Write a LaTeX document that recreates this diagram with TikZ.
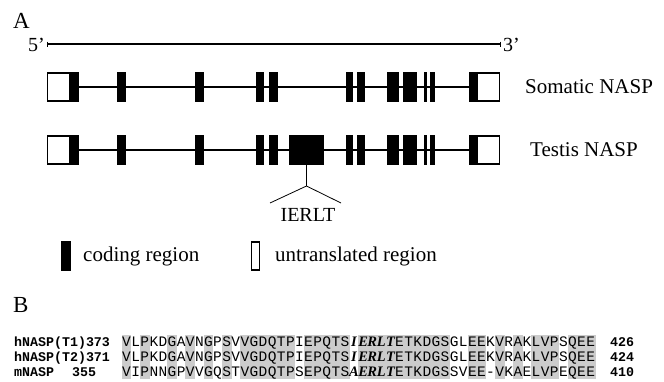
\documentclass[tikz,border=0pt]{standalone}
\usepackage{fontspec}
\setmainfont{Liberation Serif}
\newfontfamily\monof{Liberation Mono}
\newfontfamily\motiff{Liberation Serif}
\newcommand\mi[1]{{\motiff\bfseries\itshape #1}}
\begin{document}
\begin{tikzpicture}[x=1pt,y=-1pt,
  lbl/.style={font=\fontsize{21}{24}\selectfont, inner sep=0pt},
  panel/.style={font=\fontsize{23}{26}\selectfont, inner sep=0pt, anchor=base west},
  exonbox/.style={fill=black, draw=none, inner sep=0pt, minimum height=30pt},
  utrbox/.style={fill=white, draw=black, line width=1.8pt, inner sep=0pt, minimum height=28pt},
  intron/.style={line width=1.8pt},
  seqch/.style={font=\monof\fontsize{14.5}{16}\selectfont, inner sep=0pt, anchor=base},
  motifch/.style={font=\motiff\bfseries\itshape\fontsize{14.5}{16}\selectfont, inner sep=0pt, anchor=base},
  seqlab/.style={font=\monof\bfseries\fontsize{13.3}{15}\selectfont, inner sep=0pt, anchor=base west},
  shadecol/.style={fill=black!20, draw=none}
]
\useasboundingbox (0,0) rectangle (664,381);

% Panel A
\node[panel] (pA) at (13,28) {A};
\coordinate (l5) at (47,44);
\coordinate (l3) at (500,44);
\draw[line width=1.4pt] (l5) -- (l3);
\draw[line width=0.8pt] (47,41.5) -- (47,46.5) (500,41.5) -- (500,46.5);
\node[lbl, font=\fontsize{20}{22}\selectfont, anchor=base east] (p5) at (45,51) {5’};
\node[lbl, font=\fontsize{20}{22}\selectfont, anchor=base west] (p3) at (503,51) {3’};

% gene rows
\foreach \y/\r in {87/s,150/t}{
  \node[utrbox, minimum width=22pt] (\r u5) at (58.5,\y) {};
  \node[utrbox, minimum width=22pt] (\r u3) at (488.5,\y) {};
  \draw[intron] (79,\y) -- (469,\y);
  \foreach \a/\b [count=\k] in {69/79,117/126,195/204,256/264,269/278,346/353,357/365,387/399,403/417,424/427,430/435,469/478}{
    \node[exonbox, minimum width={(\b-\a)*1pt}] (\r e\k) at ({(\a+\b)/2},\y) {};
  }
}
\node[exonbox, minimum width=35pt] (bigex) at (306.5,150) {};
\node[lbl, anchor=west] (somlab) at (525,87) {Somatic NASP};
\node[lbl, anchor=west] (teslab) at (530,150) {Testis NASP};

% IERLT marker
\coordinate (fork) at (306.5,186);
\coordinate (fl) at (270,203);
\coordinate (fr) at (341,203);
\draw[line width=0.8pt] (bigex.south) -- (fork);
\draw[line width=0.8pt] (fl) -- (fork) -- (fr);
\node[lbl, font=\fontsize{20}{22}\selectfont] (ierlt) at (308,215) {IERLT};

% legend
\node[exonbox, minimum width=10pt, minimum height=30pt] (legc) at (66,256) {};
\node[lbl, anchor=west] (legct) at (83,256) {coding region};
\node[fill=white, draw=black, line width=1.8pt, inner sep=0pt, minimum width=8pt, minimum height=28pt] (legu) at (255.5,256) {};
\node[lbl, anchor=west] (legut) at (275,256) {untranslated region};

% Panel B
\node[panel] (pB) at (13,312) {B};

% shading of identical columns
\foreach \c in {1,3,6,8,10,12,14,15,16,17,18,19,21,22,23,24,25,27,28,29,30,31,32,33,34,35,36,39,40,42,44,46,47,48,50,51,52}{
  \fill[shadecol] ({122+(\c-1)*9.1-0.3},335) rectangle ({122+\c*9.1+0.3},379);
}

\node[seqlab] (n1) at (14,346.5) {hNASP(T1)373};
\node[seqlab] (n2) at (14,361.5) {hNASP(T2)371};
\node[seqlab] (n3) at (14,376.5) {mNASP};
\node[seqlab] (n3b) at (72,376.5) {355};
\node[seqlab] (e1) at (610,346.5) {426};
\node[seqlab] (e2) at (610,361.5) {424};
\node[seqlab] (e3) at (610,376.5) {410};

\foreach \ch [count=\i] in {V,L,P,K,D,G,A,V,N,G,P,S,V,V,G,D,Q,T,P,I,E,P,Q,T,S,I,E,R,L,T,E,T,K,D,G,S,G,L,E,E,K,V,R,A,K,L,V,P,S,Q,E,E}{
  \ifnum\i>25 \ifnum\i<31 \def\st{motifch}\else\def\st{seqch}\fi\else\def\st{seqch}\fi
  \node[\st] (ra\i) at ({122+(\i-0.5)*9.1},346.5) {\ch};
  \node[\st] (rb\i) at ({122+(\i-0.5)*9.1},361.5) {\ch};
}
\foreach \ch [count=\i] in {V,I,P,N,N,G,P,V,V,G,Q,S,T,V,G,D,Q,T,P,S,E,P,Q,T,S,A,E,R,L,T,E,T,K,D,G,S,S,V,E,E,-,V,K,A,E,L,V,P,E,Q,E,E}{
  \ifnum\i>25 \ifnum\i<31 \def\st{motifch}\else\def\st{seqch}\fi\else\def\st{seqch}\fi
  \node[\st] (rc\i) at ({122+(\i-0.5)*9.1},376.5) {\ch};
}
\end{tikzpicture}
\end{document}
